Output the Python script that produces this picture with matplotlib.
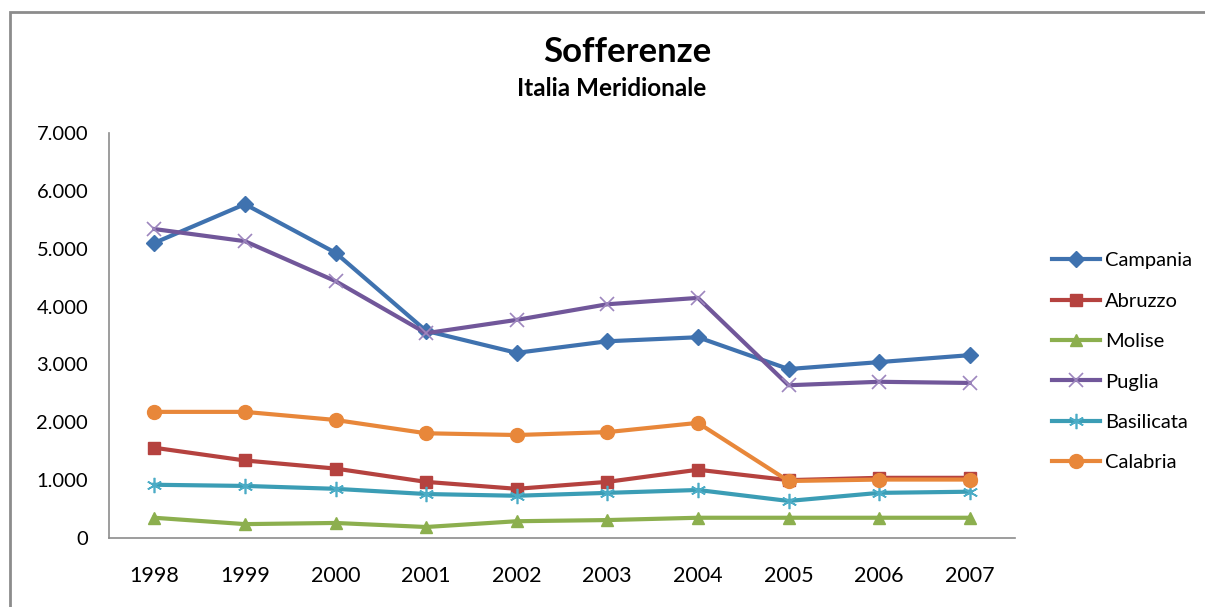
import matplotlib
matplotlib.use("Agg")
import matplotlib.pyplot as plt
from matplotlib.patches import Rectangle
from matplotlib.ticker import FuncFormatter, MultipleLocator

plt.rcParams['font.family'] = ['Lato', 'DejaVu Sans']

years = ["1998", "1999", "2000", "2001", "2002", "2003", "2004", "2005", "2006", "2007"]
campania = [5100, 5770, 4930, 3580, 3200, 3400, 3470, 2920, 3040, 3160]
abruzzo = [1560, 1340, 1200, 970, 850, 970, 1180, 1000, 1040, 1040]
molise = [350, 240, 260, 190, 290, 310, 350, 350, 350, 350]
puglia = [5340, 5130, 4440, 3540, 3770, 4040, 4150, 2640, 2700, 2680]
basilicata = [920, 900, 850, 760, 730, 780, 830, 640, 780, 800]
calabria = [2180, 2180, 2040, 1810, 1780, 1830, 1990, 985, 1010, 1010]

series = [
    ("Campania", campania, "#3F72AF", "D", 8, "#3F72AF"),
    ("Abruzzo", abruzzo, "#B5423F", "s", 9, "#B5423F"),
    ("Molise", molise, "#8CAF4E", "^", 9, "#8CAF4E"),
    ("Puglia", puglia, "#71579A", "x", 10, "#9D86BE"),
    ("Basilicata", basilicata, "#3B9DB5", (6, 2, 0), 11, "#4BACC6"),
    ("Calabria", calabria, "#E8873A", "o", 10, "#E8873A"),
]

fig = plt.figure(figsize=(12.05, 6.07), dpi=100)
W, H = 1205, 607
ax = fig.add_axes([109 / W, (H - 538) / H, (1015 - 109) / W, (538 - 133) / H])

x = list(range(len(years)))
for name, vals, col, mk, ms, mcol in series:
    ax.plot(x, vals, color=col, lw=3.0, marker=mk, markersize=ms,
            markerfacecolor=mcol, markeredgecolor=mcol,
            markeredgewidth=1.2 if mk in ("x",) or isinstance(mk, tuple) else 1.0,
            label=name, solid_joinstyle='round')

ax.set_xlim(-0.5, len(years) - 0.5)
ax.set_ylim(0, 7000)
ax.yaxis.set_major_locator(MultipleLocator(1000))
ax.yaxis.set_major_formatter(FuncFormatter(lambda v, p: f"{int(v):,}".replace(",", ".")))
ax.set_xticks(x)
ax.set_xticklabels(years)
for s in ("top", "right"):
    ax.spines[s].set_visible(False)
for s in ("left", "bottom"):
    ax.spines[s].set_color("#8C8C8C")
    ax.spines[s].set_linewidth(1.2)
ax.tick_params(axis='both', length=0, colors="#000000")
ax.tick_params(axis='y', labelsize=14.5, pad=15)
ax.tick_params(axis='x', labelsize=15.5, pad=20)

leg = fig.legend(loc='upper left', bbox_to_anchor=(1044 / W, (H - 244) / H),
                 frameon=False, fontsize=14.5, handlelength=2.4, handletextpad=0.22,
                 labelspacing=1.16, borderaxespad=0)

fig.text(627 / W, (H - 52) / H, "Sofferenze", ha='center', va='center',
         fontsize=25, fontweight='bold')
fig.text(612 / W, (H - 88) / H, "Italia Meridionale", ha='center', va='center',
         fontsize=17.5, fontweight='bold')

fig.patches.append(Rectangle((10 / W, -0.1), 1.2, (H - 12) / H + 0.1,
                             transform=fig.transFigure, fill=False,
                             edgecolor="#8C8C8C", lw=2.0))

fig.savefig("out.png", dpi=100)
